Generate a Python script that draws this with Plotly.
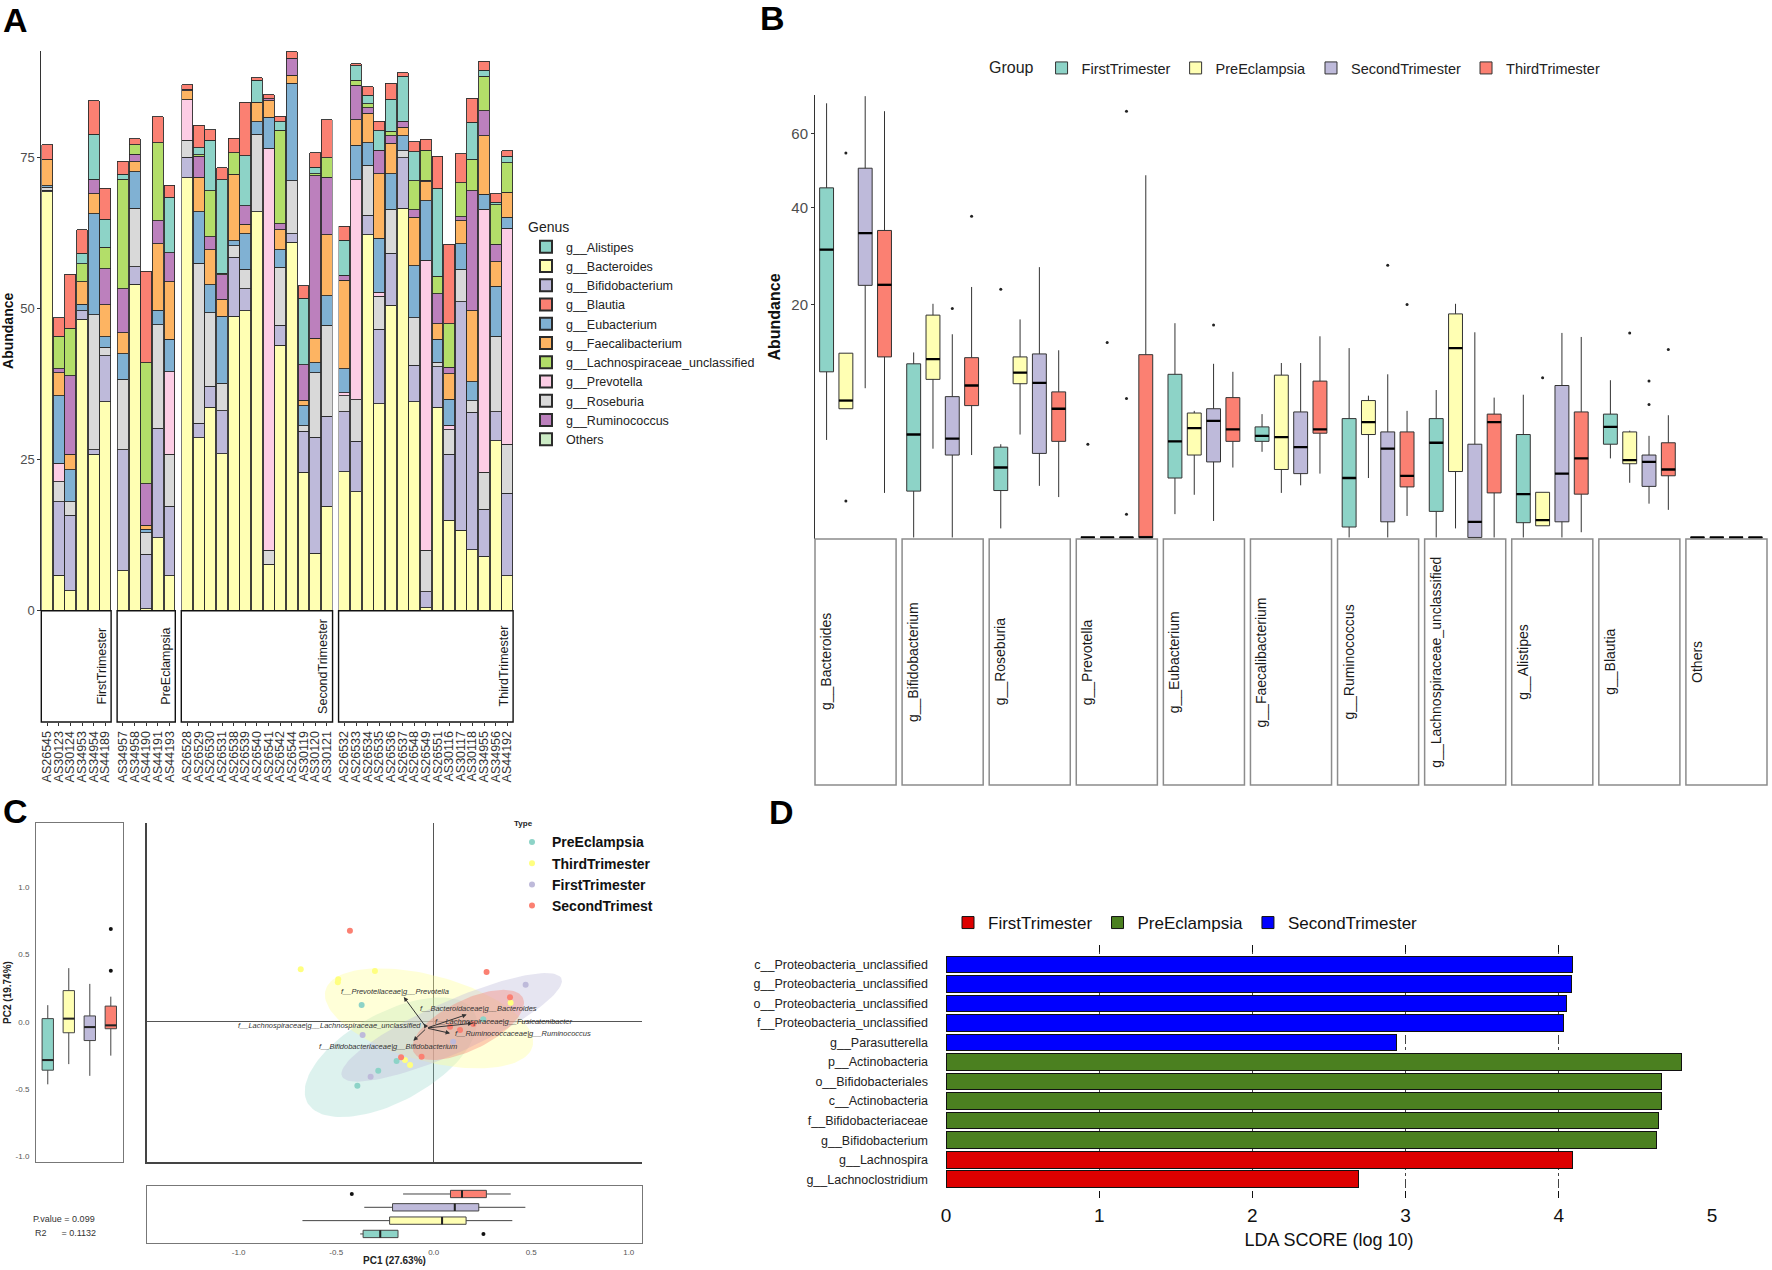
import numpy as np
import plotly.graph_objects as go

W, H = 1772, 1270
FONT = "Liberation Sans, Arial, sans-serif"


def fx(p):
    return p / W


def fy(p):
    return 1 - p / H


# ------------------------------------------------------------------ Panel A data
samples_first = ["AS26545", "AS30123", "AS30124", "AS34953", "AS34954", "AS44189"]
samples_pre = ["AS34957", "AS34958", "AS44190", "AS44191", "AS44193"]
samples_second = ["AS26528", "AS26529", "AS26530", "AS26531", "AS26538", "AS26539", "AS26540",
                  "AS26541", "AS26542", "AS26544", "AS30119", "AS30120", "AS30121"]
samples_third = ["AS26532", "AS26533", "AS26534", "AS26535", "AS26536", "AS26537", "AS26548",
                 "AS26549", "AS26551", "AS30116", "AS30117", "AS30118", "AS34955", "AS34956", "AS44192"]
facet_names_A = ["FirstTrimester", "PreEclampsia", "SecondTrimester", "ThirdTrimester"]

ab_bacteroides = [69.3, 5.9, 3.3, 48.2, 25.9, 34.6,
                  6.6, 54.0, 0.3, 12.1, 5.8,
                  71.6, 28.6, 33.7, 26.0, 48.7, 49.6, 66.0, 7.7, 43.9, 61.0, 22.9, 9.5, 17.3,
                  23.0, 19.7, 62.2, 34.2, 50.5, 66.6, 34.6, 0.5, 33.7, 15.0, 13.3, 10.1, 9.0, 28.1, 5.8]
ab_bifidobacterium = [0.3, 12.1, 12.5, 1.4, 0.7, 7.6,
                      20.0, 2.9, 9.0, 18.1, 11.5,
                      3.4, 2.4, 3.4, 7.1, 9.8, 3.7, 0.0, 0.0, 3.3, 1.4, 6.8, 19.2, 14.9,
                      9.9, 8.3, 3.2, 12.4, 8.6, 8.3, 6.0, 2.6, 6.7, 10.9, 37.8, 22.7, 7.8, 4.8, 13.6]
ab_roseburia = [0.5, 3.3, 2.2, 0.0, 22.4, 1.4,
                11.7, 9.7, 3.6, 17.1, 8.6,
                2.8, 26.5, 12.2, 4.5, 1.9, 3.2, 12.8, 2.3, 9.6, 8.7, 0.9, 10.7, 15.0,
                2.7, 6.9, 8.3, 5.4, 7.3, 1.2, 7.9, 6.9, 0.7, 4.0, 5.4, 1.9, 6.1, 12.5, 8.1]
ab_prevotella = [0.0, 3.1, 0.0, 0.0, 0.0, 0.0,
                 0.0, 0.0, 0.0, 0.0, 13.6,
                 6.7, 0.0, 0.0, 0.0, 0.0, 0.0, 0.0, 66.5, 0.0, 0.0, 0.0, 0.0, 0.0,
                 0.5, 36.4, 0.0, 0.7, 0.0, 0.0, 0.0, 48.0, 0.0, 0.8, 0.0, 0.0, 43.5, 0.0, 35.8]
ab_eubacterium = [0.2, 11.2, 5.3, 1.1, 16.7, 1.7,
                  4.2, 6.0, 0.6, 2.4, 5.4,
                  0.0, 8.5, 4.6, 11.1, 0.8, 5.9, 2.1, 5.1, 2.9, 16.2, 3.3, 1.6, 4.9,
                  3.9, 5.7, 3.7, 8.9, 5.9, 2.5, 8.6, 9.8, 3.8, 4.3, 4.2, 3.2, 2.5, 8.3, 1.8]
ab_faecalibacterium = [4.4, 3.8, 2.6, 3.7, 3.3, 5.3,
                       3.5, 1.7, 0.6, 11.0, 9.5,
                       1.5, 5.7, 5.8, 2.8, 11.0, 1.5, 3.2, 2.8, 3.3, 1.3, 0.9, 4.1, 10.1,
                       14.7, 4.2, 4.9, 10.7, 5.0, 1.4, 8.0, 3.2, 2.6, 4.2, 3.8, 11.7, 9.7, 4.0, 4.1]
ab_ruminococcus = [0.0, 0.6, 13.0, 0.0, 2.4, 6.0,
                   7.3, 1.2, 6.9, 3.8, 4.8,
                   0.3, 3.5, 2.2, 4.1, 0.0, 3.1, 0.0, 0.3, 1.0, 2.8, 5.9, 26.9, 9.5,
                   0.8, 5.7, 0.9, 3.9, 1.3, 1.0, 1.2, 0.2, 4.9, 1.1, 0.7, 19.9, 4.1, 2.9, 0.0]
ab_lachno = [0.0, 5.4, 7.8, 3.0, 0.0, 3.5,
             18.1, 1.6, 20.0, 12.9, 0.0,
             0.0, 0.2, 7.6, 0.2, 3.6, 0.0, 0.0, 0.0, 15.5, 0.0, 0.0, 0.3, 3.2,
             0.0, 0.9, 0.7, 0.0, 0.7, 0.0, 4.8, 5.0, 2.9, 7.2, 5.6, 5.2, 5.7, 6.6, 4.9]
ab_alistipes = [0.0, 0.0, 0.0, 1.7, 7.4, 4.7,
                0.8, 0.0, 0.0, 0.0, 9.2,
                0.0, 1.2, 8.3, 15.5, 0.0, 8.3, 3.7, 0.0, 1.4, 0.0, 11.0, 1.1, 0.0,
                5.8, 2.4, 1.4, 3.2, 5.3, 7.4, 4.8, 0.0, 14.6, 0.0, 0.0, 6.1, 1.0, 0.4, 1.1]
ab_blautia = [2.4, 3.1, 9.0, 3.9, 5.6, 5.1,
              2.2, 1.0, 15.2, 4.3, 2.0,
              0.7, 3.7, 1.8, 2.0, 2.4, 8.8, 0.4, 0.7, 0.9, 1.1, 2.1, 2.4, 6.3,
              2.3, 0.3, 1.4, 1.6, 2.7, 0.6, 1.7, 1.8, 5.3, 13.1, 4.8, 4.0, 1.5, 1.4, 0.9]
ab_others = [0.0] * 39

genus_legend = ["g__Alistipes", "g__Bacteroides", "g__Bifidobacterium", "g__Blautia", "g__Eubacterium",
                "g__Faecalibacterium", "g__Lachnospiraceae_unclassified", "g__Prevotella", "g__Roseburia",
                "g__Ruminococcus", "Others"]
genus_colors = ["#8DD3C7", "#FFFFB3", "#BEBADA", "#FB8072", "#80B1D3", "#FDB462", "#B3DE69",
                "#FCCDE5", "#D9D9D9", "#BC80BD", "#CCEBC5"]
genus_stack = ["g__Bacteroides", "g__Bifidobacterium", "g__Roseburia", "g__Prevotella", "g__Eubacterium",
               "g__Faecalibacterium", "g__Ruminococcus", "g__Lachnospiraceae_unclassified", "g__Alistipes",
               "g__Blautia", "Others"]
genus_values = {
    "g__Bacteroides": ab_bacteroides, "g__Bifidobacterium": ab_bifidobacterium, "g__Roseburia": ab_roseburia,
    "g__Prevotella": ab_prevotella, "g__Eubacterium": ab_eubacterium, "g__Faecalibacterium": ab_faecalibacterium,
    "g__Ruminococcus": ab_ruminococcus, "g__Lachnospiraceae_unclassified": ab_lachno,
    "g__Alistipes": ab_alistipes, "g__Blautia": ab_blautia, "Others": ab_others,
}

# ------------------------------------------------------------------ Panel B data (abundance stats)
genera_B = ["g__Bacteroides", "g__Bifidobacterium", "g__Roseburia", "g__Prevotella", "g__Eubacterium",
            "g__Faecalibacterium", "g__Ruminococcus", "g__Lachnospiraceae_unclassified", "g__Alistipes",
            "g__Blautia", "Others"]
groups_B = ["FirstTrimester", "PreEclampsia", "SecondTrimester", "ThirdTrimester"]
colors_B = ["#8DD3C7", "#FFFFB3", "#BEBADA", "#FB8072"]

first_low = [3.5, 0, 0.03, 0, 0.2, 2.7, 0, 0, 0, 2.3, 0]
first_q1 = [10.1, 0.79, 0.81, 0, 1.3, 3.4, 0.04, 0.25, 0.08, 3.2, 0]
first_med = [30.5, 3.9, 1.8, 0, 3.4, 3.8, 1.3, 3.3, 0.69, 4.5, 0]
first_q3 = [45.0, 11.1, 3.0, 0, 9.8, 4.5, 5.2, 5.2, 3.9, 5.6, 0]
first_high = [69.4, 12.6, 3.2, 0, 16.9, 5.6, 13.2, 8.0, 7.5, 9.1, 0]

pre_low = [6.1, 2.9, 3.9, 0, 0.67, 0.73, 1.3, 0.03, 0.05, 1.1, 0]
pre_q1 = [6.1, 9.2, 8.7, 0, 2.5, 1.7, 3.9, 1.6, 0.05, 2.0, 0]
pre_med = [6.9, 11.7, 10.0, 0, 4.4, 3.7, 4.9, 13.2, 0.11, 2.2, 0]
pre_q3 = [12.5, 18.2, 12.0, 0, 5.7, 9.7, 6.9, 18.4, 0.75, 4.1, 0]
pre_high = [12.5, 20.1, 17.5, 0, 5.9, 11.2, 7.4, 20.1, 0.75, 4.2, 0]

second_low = [8.2, 0, 0.98, 0, 0.1, 1.0, 0, 0, 0, 0.42, 0]
second_q1 = [23.4, 2.5, 2.6, 0, 2.1, 1.5, 0.09, 0, 0.09, 0.96, 0]
second_med = [34.1, 3.6, 8.8, 0, 5.0, 3.0, 2.9, 0.09, 1.5, 2.1, 0]
second_q3 = [50.2, 7.3, 12.4, 0, 6.1, 5.8, 4.1, 3.2, 8.5, 2.5, 0]
second_high = [71.7, 15.2, 26.9, 0, 11.1, 11.2, 9.8, 15.5, 15.4, 3.8, 0]

third_low = [0.73, 2.5, 0.6, 0, 1.8, 1.5, 0.17, 0, 0.01, 0.28, 0]
third_q1 = [12.0, 6.4, 3.4, 0, 3.4, 4.0, 0.94, 0.73, 0.69, 1.4, 0]
third_med = [23.5, 8.5, 6.1, 0, 4.3, 4.3, 1.4, 4.9, 2.3, 1.7, 0]
third_q3 = [34.7, 11.9, 7.8, 12.3, 7.2, 9.0, 4.1, 5.6, 5.8, 3.3, 0]
third_high = [66.9, 23.1, 12.9, 48.3, 10.1, 14.9, 5.9, 7.2, 14.8, 5.5, 0]

outlier_genus = ["g__Bacteroides", "g__Bacteroides", "g__Bifidobacterium", "g__Bifidobacterium", "g__Roseburia",
                 "g__Prevotella", "g__Prevotella", "g__Prevotella", "g__Prevotella", "g__Prevotella",
                 "g__Eubacterium", "g__Ruminococcus", "g__Ruminococcus", "g__Alistipes",
                 "g__Blautia", "g__Blautia", "g__Blautia", "g__Blautia"]
outlier_group = ["PreEclampsia", "PreEclampsia", "ThirdTrimester", "SecondTrimester", "FirstTrimester",
                 "FirstTrimester", "PreEclampsia", "SecondTrimester", "SecondTrimester", "SecondTrimester",
                 "SecondTrimester", "SecondTrimester", "ThirdTrimester", "PreEclampsia",
                 "PreEclampsia", "SecondTrimester", "SecondTrimester", "ThirdTrimester"]
outlier_value = [54.4, 0.49, 38.0, 19.3, 22.7, 3.2, 14.0, 66.9, 7.1, 0.2, 16.6, 27.3, 20.0, 9.4,
                 15.4, 9.0, 6.5, 13.0]
yticks_B = [20, 40, 60]

# ------------------------------------------------------------------ Panel C data (PCA)
types_C = ["PreEclampsia", "ThirdTrimester", "FirstTrimester", "SecondTrimest"]
colors_C = ["#8DD3C7", "#FFFF80", "#BEBADA", "#FB8072"]
box_colors_C = ["#8DD3C7", "#FFFFB3", "#BEBADA", "#FB8072"]
ellipse_fill_C = ["rgba(141,211,199,0.30)", "rgba(255,255,153,0.38)", "rgba(190,186,218,0.38)",
                  "rgba(251,128,114,0.38)"]

pc1_pre = [-0.368, -0.189, -0.283, -0.390, 0.255]
pc2_pre = [0.126, -0.290, -0.362, -0.473, 0.020]
pc1_third = [-0.680, -0.488, -0.490, -0.300, 0.395, -0.146, -0.120]
pc2_third = [0.391, 0.317, 0.295, 0.379, 0.143, -0.282, -0.319]
pc1_first = [0.472, -0.363, -0.322, 0.101]
pc2_first = [0.277, -0.097, -0.406, -0.146]
pc1_second = [-0.428, 0.272, 0.392, -0.166, -0.061, 0.085, 0.136, 0.204]
pc2_second = [0.678, 0.371, 0.183, -0.262, -0.258, -0.035, -0.059, -0.015]

# confidence ellipses: centre and semi-axis vectors (data units)
ell_cx = [-0.219, -0.023, 0.093, 0.178]
ell_cy = [-0.262, 0.027, -0.040, -0.022]
ell_ax = [0.427, 0.530, 0.562, 0.280]
ell_ay = [0.337, -0.209, 0.363, 0.201]
ell_bx = [0.109, -0.0575, 0.054, 0.0566]
ell_by = [-0.290, -0.307, -0.176, -0.166]

# PC2 boxplots (left), order PreEclampsia, ThirdTrimester, FirstTrimester, SecondTrimest
pc2_low = [-0.463, -0.313, -0.400, -0.250]
pc2_q1 = [-0.358, -0.080, -0.138, -0.050]
pc2_med = [-0.283, 0.025, -0.038, -0.025]
pc2_q3 = [0.025, 0.233, 0.045, 0.118]
pc2_high = [0.125, 0.400, 0.283, 0.188]
pc2_out_group = [3, 3]
pc2_out_val = [0.69, 0.38]

# PC1 boxplots (bottom)
pc1_low = [-0.377, -0.673, -0.356, -0.157]
pc1_q1 = [-0.362, -0.226, -0.211, 0.086]
pc1_med = [-0.274, 0.043, 0.108, 0.145]
pc1_q3 = [-0.183, 0.166, 0.231, 0.270]
pc1_high = [-0.183, 0.403, 0.470, 0.395]
pc1_out_group = [3, 0]
pc1_out_val = [-0.42, 0.255]

# biplot arrows
arrow_labels = ["f__Prevotellaceae|g__Prevotella", "f__Bacteroidaceae|g__Bacteroides",
                "f__Lachnospiraceae|g__Fusicatenibacter", "f__Ruminococcaceae|g__Ruminococcus",
                "f__Lachnospiraceae|g__Lachnospiraceae_unclassified", "f__Bifidobacteriaceae|g__Bifidobacterium"]
arrow_tip_x = [-0.152, 0.170, 0.200, 0.085, -0.050, -0.103]
arrow_tip_y = [0.186, 0.055, -0.010, -0.084, -0.012, -0.140]
label_x = [-0.197, 0.230, 0.362, 0.456, -0.535, -0.231]
label_y = [0.225, 0.097, 0.002, -0.089, -0.027, -0.184]
arrow_origin = (-0.035, -0.045)

# ------------------------------------------------------------------ Panel D data (LEfSe)
lda_features = ["c__Proteobacteria_unclassified", "g__Proteobacteria_unclassified",
                "o__Proteobacteria_unclassified", "f__Proteobacteria_unclassified", "g__Parasutterella",
                "p__Actinobacteria", "o__Bifidobacteriales", "c__Actinobacteria", "f__Bifidobacteriaceae",
                "g__Bifidobacterium", "g__Lachnospira", "g__Lachnoclostridium"]
lda_scores = [4.09, 4.08, 4.05, 4.03, 2.94, 4.80, 4.67, 4.67, 4.65, 4.64, 4.09, 2.69]
lda_group = ["SecondTrimester"] * 5 + ["PreEclampsia"] * 5 + ["FirstTrimester"] * 2
lda_classes = ["FirstTrimester", "PreEclampsia", "SecondTrimester"]
lda_colors = ["#DD0000", "#4B8020", "#0000FF"]

# ================================================================== figure
fig = go.Figure()
layout = dict(
    width=W, height=H, margin=dict(l=0, r=0, t=0, b=0),
    paper_bgcolor="white", plot_bgcolor="white",
    font=dict(family=FONT, color="#1a1a1a"),
    barmode="stack", bargap=0.06, shapes=[], annotations=[],
)


def axis(**kw):
    d = dict(showgrid=False, zeroline=False, showline=False, ticks="", showticklabels=False,
             automargin=False, fixedrange=True)
    d.update(kw)
    return d


def xref(i):
    return "x" if i == 1 else f"x{i}"


def xkey(i):
    return "xaxis" if i == 1 else f"xaxis{i}"


# ------------------------------------------------------------------ Panel A
facet_samples = [samples_first, samples_pre, samples_second, samples_third]
A_left, A_right, A_gap, A_top, A_base, A_strip = 41.3, 513.1, 6.0, 51, 610.7, 722
counts = [len(s) for s in facet_samples]
slot = (A_right - A_left - A_gap * 3) / sum(counts)
layout["yaxis"] = axis(domain=[fy(A_base), fy(A_top)], range=[0, 92.6], anchor="x",
                       showline=True, linecolor="#333", linewidth=1,
                       tickvals=[0, 25, 50, 75], showticklabels=True, ticks="outside", ticklen=3,
                       tickcolor="#333", tickfont=dict(size=13, color="#4d4d4d"),
                       title=dict(text="<b>Abundance</b>", font=dict(size=14, color="#111"), standoff=5))
left = A_left
offset = 0
for fi, samples in enumerate(facet_samples):
    n = len(samples)
    right = left + n * slot
    ax_id = fi + 1
    layout[xkey(ax_id)] = axis(domain=[fx(left), fx(right)], type="category", range=[-0.5, n - 0.5],
                               anchor="free", position=fy(A_strip), showticklabels=True, tickangle=-90,
                               tickmode="array", tickvals=samples, ticktext=samples,
                               ticks="outside", ticklen=3, tickcolor="#333",
                               tickfont=dict(size=12.5, color="#333"))
    for g in genus_stack:
        vals = genus_values[g][offset:offset + n]
        fig.add_trace(go.Bar(
            x=samples, y=[v if v > 0 else None for v in vals], name=g,
            marker=dict(color=genus_colors[genus_legend.index(g)], line=dict(color="#2b2b2b", width=0.9)),
            xaxis=xref(ax_id), yaxis="y", legend="legend", legendgroup=g, showlegend=(fi == 0),
            legendrank=genus_legend.index(g) + 1))
    layout["shapes"].append(dict(type="rect", xref="paper", yref="paper", x0=fx(left), x1=fx(right),
                                 y0=fy(A_strip), y1=fy(A_base), line=dict(color="#111", width=1.4),
                                 fillcolor="white"))
    layout["annotations"].append(dict(text=facet_names_A[fi], xref="paper", yref="paper",
                                      x=fx(right - 9), y=fy((A_base + A_strip) / 2), textangle=-90,
                                      showarrow=False, font=dict(size=12.5, color="#1a1a1a"),
                                      xanchor="center", yanchor="middle"))
    offset += n
    left = right + A_gap

# ------------------------------------------------------------------ Panel B
B_left, B_right, B_gap, B_top, B_base, B_strip = 815, 1767, 6.0, 95, 539, 785
nB = len(genera_B)
fw = (B_right - B_left - B_gap * (nB - 1)) / nB
stats_B = {
    "FirstTrimester": (first_low, first_q1, first_med, first_q3, first_high),
    "PreEclampsia": (pre_low, pre_q1, pre_med, pre_q3, pre_high),
    "SecondTrimester": (second_low, second_q1, second_med, second_q3, second_high),
    "ThirdTrimester": (third_low, third_q1, third_med, third_q3, third_high),
}
sq = np.sqrt
layout["yaxis2"] = axis(domain=[fy(B_base), fy(B_top)], range=[-0.03, 8.49], anchor="x5",
                        showline=True, linecolor="#333", linewidth=1,
                        tickvals=[float(sq(v)) for v in yticks_B], ticktext=[str(v) for v in yticks_B],
                        showticklabels=True, ticks="outside", ticklen=3, tickcolor="#333",
                        tickfont=dict(size=15, color="#4d4d4d"),
                        title=dict(text="<b>Abundance</b>", font=dict(size=16, color="#111"), standoff=6))
bw = 0.72
for k, gen in enumerate(genera_B):
    ax_id = 5 + k
    l = B_left + k * (fw + B_gap)
    r = l + fw
    layout[xkey(ax_id)] = axis(domain=[fx(l), fx(r)], range=[-0.6, 3.6], anchor="y2")
    med_x, med_y = [], []
    for gi, grp in enumerate(groups_B):
        lo, q1, md, q3, hi = (s[k] for s in stats_B[grp])
        fig.add_trace(go.Box(
            x=[gi], q1=[sq(q1)], median=[sq(md)], q3=[sq(q3)], lowerfence=[sq(lo)], upperfence=[sq(hi)],
            orientation="v", width=bw, whiskerwidth=0, fillcolor=colors_B[gi],
            line=dict(color="#333", width=1), name=grp, legendgroup=grp, legend="legend2",
            showlegend=(k == 0), xaxis=xref(ax_id), yaxis="y2", boxpoints=False))
        med_x += [gi - bw / 2, gi + bw / 2, None]
        med_y += [sq(md), sq(md), None]
    fig.add_trace(go.Scatter(x=med_x, y=med_y, mode="lines", line=dict(color="black", width=2.3),
                             showlegend=False, hoverinfo="skip", xaxis=xref(ax_id), yaxis="y2"))
    ox = [groups_B.index(outlier_group[j]) for j in range(len(outlier_genus)) if outlier_genus[j] == gen]
    oy = [sq(outlier_value[j]) for j in range(len(outlier_genus)) if outlier_genus[j] == gen]
    if ox:
        fig.add_trace(go.Scatter(x=ox, y=oy, mode="markers", marker=dict(color="#222", size=3),
                                 showlegend=False, hoverinfo="skip", xaxis=xref(ax_id), yaxis="y2"))
    layout["shapes"].append(dict(type="rect", xref="paper", yref="paper", x0=fx(l), x1=fx(r),
                                 y0=fy(B_strip), y1=fy(B_base), line=dict(color="#8c8c8c", width=1.5),
                                 fillcolor="white"))
    layout["annotations"].append(dict(text=gen, xref="paper", yref="paper", x=fx(l + 11),
                                      y=fy((B_base + B_strip) / 2), textangle=-90, showarrow=False,
                                      font=dict(size=14, color="#1a1a1a"), xanchor="center", yanchor="middle"))

# ------------------------------------------------------------------ Panel C
C_top, C_bot = 823, 1162
yrange_C = [-1.04, 1.478]
xrange_C = [-1.47, 1.068]
pc_ticks = [-1.0, -0.5, 0.0, 0.5, 1.0]
layout["xaxis16"] = axis(domain=[fx(36), fx(123)], range=[-0.56, 3.58], anchor="y3",
                         showline=True, mirror=True, linecolor="#777", linewidth=1)
layout["yaxis3"] = axis(domain=[fy(C_bot), fy(C_top)], range=yrange_C, anchor="x16",
                        showline=True, mirror=True, linecolor="#777", linewidth=1,
                        tickvals=pc_ticks, ticktext=[f"{v:.1f}" for v in pc_ticks], showticklabels=True,
                        tickfont=dict(size=8, color="#555"), ticklabelstandoff=4,
                        title=dict(text="<b>PC2 (19.74%)</b>", font=dict(size=10, color="#222"), standoff=2))
layout["xaxis17"] = axis(domain=[fx(146.5), fx(642)], range=xrange_C, anchor="y4",
                         showline=True, linecolor="#444", linewidth=1.5,
                         zeroline=True, zerolinecolor="#555", zerolinewidth=1.3)
layout["yaxis4"] = axis(domain=[fy(C_bot), fy(C_top)], range=yrange_C, anchor="x17",
                        showline=True, linecolor="#444", linewidth=1.5,
                        zeroline=True, zerolinecolor="#555", zerolinewidth=1.3)
layout["xaxis18"] = axis(domain=[fx(147), fx(642)], range=xrange_C, anchor="y5",
                         showline=True, mirror=True, linecolor="#777", linewidth=1,
                         tickvals=pc_ticks, ticktext=[f"{v:.1f}" for v in pc_ticks], showticklabels=True,
                         tickfont=dict(size=8, color="#555"), ticklabelstandoff=1,
                         title=dict(text="<b>PC1 (27.63%)</b>", font=dict(size=10, color="#222"), standoff=1))
layout["yaxis5"] = axis(domain=[fy(1243), fy(1186)], range=[-0.68, 3.6], anchor="x18",
                        showline=True, mirror=True, linecolor="#777", linewidth=1)

# ellipses
t = np.linspace(0, 2 * np.pi, 120)
for i in range(4):
    ex = ell_cx[i] + ell_ax[i] * np.cos(t) + ell_bx[i] * np.sin(t)
    ey = ell_cy[i] + ell_ay[i] * np.cos(t) + ell_by[i] * np.sin(t)
    fig.add_trace(go.Scatter(x=ex, y=ey, mode="lines", fill="toself", fillcolor=ellipse_fill_C[i],
                             line=dict(width=0), showlegend=False, hoverinfo="skip",
                             xaxis="x17", yaxis="y4"))
pts = [(pc1_pre, pc2_pre), (pc1_third, pc2_third), (pc1_first, pc2_first), (pc1_second, pc2_second)]
for i, (px_, py_) in enumerate(pts):
    fig.add_trace(go.Scatter(x=px_, y=py_, mode="markers", name=types_C[i],
                             marker=dict(color=colors_C[i], size=6), legend="legend3",
                             xaxis="x17", yaxis="y4"))
# arrows
for i in range(len(arrow_labels)):
    layout["annotations"].append(dict(x=arrow_tip_x[i], y=arrow_tip_y[i], ax=arrow_origin[0],
                                      ay=arrow_origin[1], xref="x17", yref="y4", axref="x17", ayref="y4",
                                      showarrow=True, arrowhead=2, arrowsize=0.9, arrowwidth=1,
                                      arrowcolor="#333", text=""))
    layout["annotations"].append(dict(x=label_x[i], y=label_y[i], xref="x17", yref="y4",
                                      text=f"<i>{arrow_labels[i]}</i>", showarrow=False,
                                      font=dict(size=7.5, color="#333")))

# PC2 boxes (left)
bwc = 0.54
mx, my = [], []
for i in range(4):
    fig.add_trace(go.Box(x=[i], q1=[pc2_q1[i]], median=[pc2_med[i]], q3=[pc2_q3[i]],
                         lowerfence=[pc2_low[i]], upperfence=[pc2_high[i]], orientation="v", width=bwc,
                         whiskerwidth=0, fillcolor=box_colors_C[i],
                         line=dict(color="#444", width=1), showlegend=False, boxpoints=False,
                         xaxis="x16", yaxis="y3"))
    mx += [i - bwc / 2, i + bwc / 2, None]
    my += [pc2_med[i], pc2_med[i], None]
fig.add_trace(go.Scatter(x=mx, y=my, mode="lines", line=dict(color="#222", width=2), showlegend=False,
                         hoverinfo="skip", xaxis="x16", yaxis="y3"))
fig.add_trace(go.Scatter(x=pc2_out_group, y=pc2_out_val, mode="markers", marker=dict(color="#111", size=4),
                         showlegend=False, hoverinfo="skip", xaxis="x16", yaxis="y3"))

# PC1 boxes (bottom)
bhc = 0.55
mx, my = [], []
for i in range(4):
    fig.add_trace(go.Box(y=[i], q1=[pc1_q1[i]], median=[pc1_med[i]], q3=[pc1_q3[i]],
                         lowerfence=[pc1_low[i]], upperfence=[pc1_high[i]], orientation="h", width=bhc,
                         whiskerwidth=0, fillcolor=box_colors_C[i],
                         line=dict(color="#444", width=1), showlegend=False, boxpoints=False,
                         xaxis="x18", yaxis="y5"))
    mx += [pc1_med[i], pc1_med[i], None]
    my += [i - bhc / 2, i + bhc / 2, None]
fig.add_trace(go.Scatter(x=mx, y=my, mode="lines", line=dict(color="#222", width=2), showlegend=False,
                         hoverinfo="skip", xaxis="x18", yaxis="y5"))
fig.add_trace(go.Scatter(x=pc1_out_val, y=pc1_out_group, mode="markers", marker=dict(color="#111", size=4),
                         showlegend=False, hoverinfo="skip", xaxis="x18", yaxis="y5"))

layout["annotations"].append(dict(text="P.value = 0.099", xref="paper", yref="paper", x=fx(31), y=fy(1219),
                                  xanchor="left", yanchor="middle", showarrow=False,
                                  font=dict(size=9, color="#333")))
layout["annotations"].append(dict(text="R2      = 0.1132", xref="paper", yref="paper", x=fx(33),
                                  y=fy(1233), xanchor="left", yanchor="middle", showarrow=False,
                                  font=dict(size=9, color="#333")))

# ------------------------------------------------------------------ Panel D
layout["xaxis19"] = axis(domain=[fx(946), fx(1712)], range=[0, 5], anchor="y6",
                         tickvals=[0, 1, 2, 3, 4, 5], showticklabels=True, ticks="inside", ticklen=7,
                         tickcolor="#111", mirror="ticks", tickfont=dict(size=19, color="#111"),
                         ticklabelstandoff=4,
                         minor=dict(tickvals=[1, 2, 3, 4], showgrid=True, gridcolor="#444", gridwidth=1,
                                    griddash="dashdot", ticks=""),
                         title=dict(text="LDA SCORE (log 10)", font=dict(size=18, color="#111"), standoff=8))
layout["yaxis6"] = axis(domain=[fy(1198), fy(945)], type="category", categoryorder="array",
                        categoryarray=lda_features[::-1], range=[-0.96, 11.99], anchor="x19",
                        showticklabels=True, tickfont=dict(size=12.5, color="#222"), ticklabelstandoff=17)
for ci, cls in enumerate(lda_classes):
    ys = [f for f, g in zip(lda_features, lda_group) if g == cls]
    xs = [s for s, g in zip(lda_scores, lda_group) if g == cls]
    fig.add_trace(go.Bar(x=xs, y=ys, orientation="h", name=cls, width=0.85,
                         marker=dict(color=lda_colors[ci], line=dict(color="#111", width=1)),
                         legend="legend4", xaxis="x19", yaxis="y6"))

# ------------------------------------------------------------------ legends
layout["legend"] = dict(x=fx(526), y=fy(214), xanchor="left", yanchor="top", bgcolor="rgba(0,0,0,0)",
                        title=dict(text="Genus", font=dict(size=14, color="#222")),
                        font=dict(size=12.5, color="#222"), tracegroupgap=0, itemsizing="constant")
layout["legend2"] = dict(x=fx(987), y=fy(68), xanchor="left", yanchor="middle", orientation="h",
                         bgcolor="rgba(0,0,0,0)", title=dict(text="Group", side="left",
                                                             font=dict(size=16, color="#222")),
                         font=dict(size=14.5, color="#222"))
layout["legend3"] = dict(x=fx(512), y=fy(816), xanchor="left", yanchor="top", bgcolor="rgba(0,0,0,0)",
                         title=dict(text="Type", font=dict(size=8, color="#222", weight="bold")),
                         font=dict(size=14, color="#111", weight="bold"), tracegroupgap=0)
layout["legend4"] = dict(x=fx(948), y=fy(923), xanchor="left", yanchor="middle", orientation="h",
                         traceorder="normal", bgcolor="rgba(0,0,0,0)", font=dict(size=17, color="#111"))

# ------------------------------------------------------------------ panel letters
for letter, (lx, ly) in {"A": (16, 20), "B": (772, 18), "C": (15, 811), "D": (781, 812)}.items():
    layout["annotations"].append(dict(text=f"<b>{letter}</b>", xref="paper", yref="paper", x=fx(lx),
                                      y=fy(ly), showarrow=False, font=dict(size=34, color="black"),
                                      xanchor="center", yanchor="middle"))

fig.update_layout(**layout)
fig.write_html("out.html", config={"displayModeBar": False},
               post_script="document.body.style.margin='0px';document.body.style.overflow='hidden';")
